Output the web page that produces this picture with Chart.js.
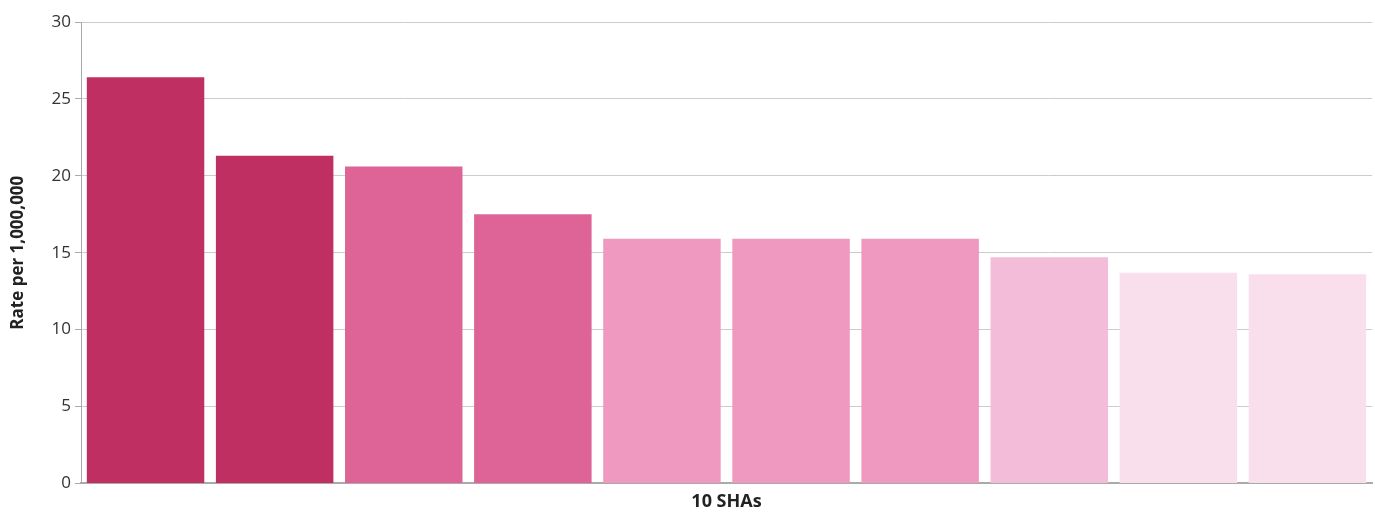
<!DOCTYPE html>
<html>
<head>
<meta charset="utf-8">
<script src="https://cdn.jsdelivr.net/npm/chart.js@4.4.1/dist/chart.umd.min.js"></script>
<style>
    html, body { margin: 0; padding: 0; background: #fff; }
    #wrap { width: 1375px; height: 513px; }
</style>
</head>
<body>
<div id="wrap"><canvas id="shaChart"></canvas></div>
<script>
// Dữ liệu biểu đồ
const categories = ['SHA 1', 'SHA 2', 'SHA 3', 'SHA 4', 'SHA 5', 'SHA 6', 'SHA 7', 'SHA 8', 'SHA 9', 'SHA 10']
const rates = [26.4, 21.3, 20.6, 17.5, 15.9, 15.9, 15.9, 14.7, 13.7, 13.6]
const barColors = ['#c02f62', '#c02f62', '#de6497', '#de6497', '#f099c0', '#f099c0', '#f099c0', '#f3bcd9', '#f9dfeb', '#f9dfeb']
const yTicks = [0, 5, 10, 15, 20, 25, 30]

const font = "'Open Sans', 'Noto Sans', sans-serif"

new Chart(document.getElementById('shaChart'), {
    type: 'bar',
    data: {
        labels: categories,
        datasets: [{
            data: rates,
            backgroundColor: barColors,
            borderWidth: 0,
            categoryPercentage: 1,
            barPercentage: 0.91
        }]
    },
    options: {
        responsive: true,
        maintainAspectRatio: false,
        animation: false,
        layout: { padding: { top: 22, right: 3, left: 0, bottom: 0 } },
        plugins: {
            legend: { display: false },
            tooltip: { enabled: false }
        },
        scales: {
            x: {
                grid: { display: false, drawTicks: false },
                border: { color: '#aaaaaa', width: 2 },
                ticks: { display: false },
                title: {
                    display: true,
                    text: '10 SHAs',
                    color: '#222',
                    font: { family: font, size: 18, weight: 'bold' },
                    padding: { top: 8, bottom: 0 }
                }
            },
            y: {
                min: 0,
                max: 30,
                afterBuildTicks: axis => { axis.ticks = yTicks.map(v => ({ value: v })) },
                afterFit: axis => { axis.width = 81 },
                grid: { color: '#cccccc', lineWidth: 1, tickLength: 6, tickColor: '#aaaaaa' },
                border: { color: '#aaaaaa', width: 1 },
                ticks: {
                    color: '#333',
                    font: { family: font, size: 17 },
                    padding: 4
                },
                title: {
                    display: true,
                    text: 'Rate per 1,000,000',
                    color: '#222',
                    font: { family: font, size: 17, weight: 'bold' },
                    padding: { top: 8, bottom: 4 }
                }
            }
        }
    }
})
</script>
</body>
</html>
